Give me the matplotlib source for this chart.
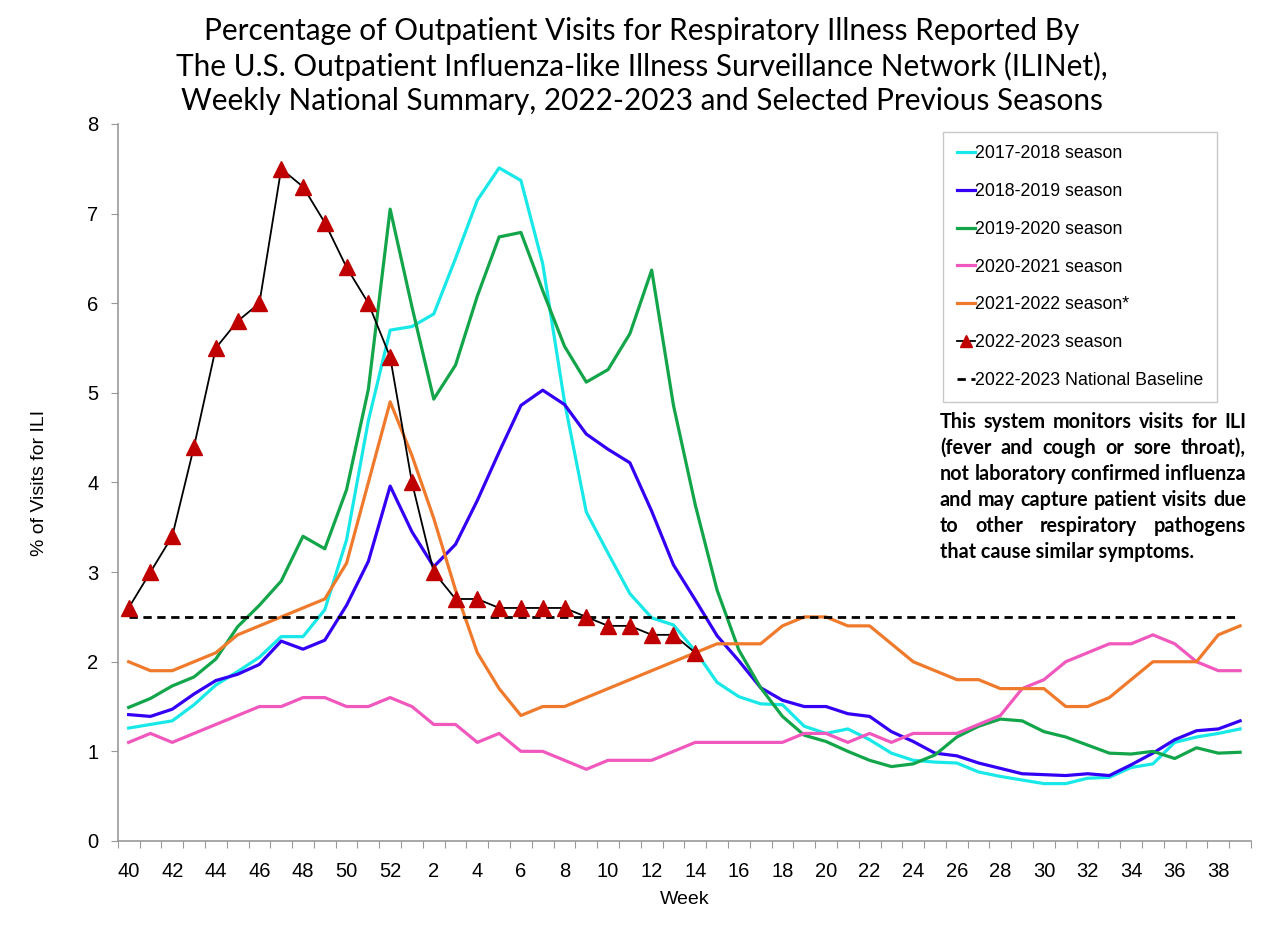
import matplotlib
matplotlib.use("Agg")
import matplotlib.pyplot as plt

# ----------------------
# Data
# ----------------------
weeks = [40, 41, 42, 43, 44, 45, 46, 47, 48, 49, 50, 51, 52] + list(range(1, 40))
tick_labels = [str(w) for w in weeks[::2]]

s1718 = [1.26, 1.30, 1.34, 1.52, 1.74, 1.89, 2.05, 2.28, 2.28, 2.58, 3.36, 4.69, 5.70,
         5.74, 5.88, 6.50, 7.15, 7.51, 7.37, 6.44, 4.90, 3.67, 3.21, 2.76, 2.49, 2.41,
         2.12, 1.77, 1.61, 1.53, 1.52, 1.28, 1.20, 1.25, 1.13, 0.98, 0.90, 0.88, 0.87,
         0.77, 0.72, 0.68, 0.64, 0.64, 0.70, 0.71, 0.82, 0.86, 1.10, 1.16, 1.20, 1.25]
s1819 = [1.41, 1.39, 1.47, 1.64, 1.79, 1.86, 1.97, 2.23, 2.14, 2.24, 2.63, 3.12, 3.96,
         3.45, 3.06, 3.31, 3.80, 4.34, 4.86, 5.03, 4.87, 4.54, 4.37, 4.22, 3.68, 3.08,
         2.69, 2.29, 2.01, 1.71, 1.57, 1.50, 1.50, 1.42, 1.39, 1.22, 1.11, 0.98, 0.95,
         0.87, 0.81, 0.75, 0.74, 0.73, 0.75, 0.73, 0.85, 0.98, 1.13, 1.23, 1.25, 1.34]
s1920 = [1.49, 1.59, 1.73, 1.83, 2.03, 2.39, 2.63, 2.90, 3.40, 3.26, 3.92, 5.04, 7.05,
         5.96, 4.93, 5.31, 6.08, 6.74, 6.79, 6.14, 5.52, 5.12, 5.26, 5.66, 6.37, 4.86,
         3.75, 2.80, 2.13, 1.71, 1.39, 1.18, 1.11, 1.00, 0.90, 0.83, 0.86, 0.96, 1.16,
         1.28, 1.36, 1.34, 1.22, 1.16, 1.07, 0.98, 0.97, 1.00, 0.92, 1.04, 0.98, 0.99]
s2021 = [1.1, 1.2, 1.1, 1.2, 1.3, 1.4, 1.5, 1.5, 1.6, 1.6, 1.5, 1.5, 1.6,
         1.5, 1.3, 1.3, 1.1, 1.2, 1.0, 1.0, 0.9, 0.8, 0.9, 0.9, 0.9, 1.0,
         1.1, 1.1, 1.1, 1.1, 1.1, 1.2, 1.2, 1.1, 1.2, 1.1, 1.2, 1.2, 1.2,
         1.3, 1.4, 1.7, 1.8, 2.0, 2.1, 2.2, 2.2, 2.3, 2.2, 2.0, 1.9, 1.9]
s2122 = [2.0, 1.9, 1.9, 2.0, 2.1, 2.3, 2.4, 2.5, 2.6, 2.7, 3.1, 4.0, 4.9,
         4.3, 3.6, 2.8, 2.1, 1.7, 1.4, 1.5, 1.5, 1.6, 1.7, 1.8, 1.9, 2.0,
         2.1, 2.2, 2.2, 2.2, 2.4, 2.5, 2.5, 2.4, 2.4, 2.2, 2.0, 1.9, 1.8,
         1.8, 1.7, 1.7, 1.7, 1.5, 1.5, 1.6, 1.8, 2.0, 2.0, 2.0, 2.3, 2.4]
s2223 = [2.6, 3.0, 3.4, 4.4, 5.5, 5.8, 6.0, 7.5, 7.3, 6.9, 6.4, 6.0, 5.4,
         4.0, 3.0, 2.7, 2.7, 2.6, 2.6, 2.6, 2.6, 2.5, 2.4, 2.4, 2.3, 2.3, 2.1]
baseline = 2.5

note_lines = [
    "This system monitors visits for ILI",
    "(fever and cough or sore throat),",
    "not laboratory confirmed influenza",
    "and may capture patient visits due",
    "to other respiratory pathogens",
    "that cause similar symptoms.",
]

# ----------------------
# Figure
# ----------------------
W, H = 1284, 948
fig = plt.figure(figsize=(W / 100, H / 100), dpi=100)
ax = fig.add_axes([0.0917, 0.1129, 0.8826, 0.7563])

x = list(range(len(weeks)))
ax.plot(x, s1718, color="#19E8E8", lw=2.3, label="2017-2018 season")
ax.plot(x, s1819, color="#3300F5", lw=2.3, label="2018-2019 season")
ax.plot(x, s1920, color="#13A54A", lw=2.3, label="2019-2020 season")
ax.plot(x, s2021, color="#F058BE", lw=2.3, label="2020-2021 season")
ax.plot(x, s2122, color="#F07A2C", lw=2.3, label="2021-2022 season*")
ax.plot(x, [baseline] * len(x), color="black", lw=2.0, ls=(0, (3, 2)), zorder=4,
        label="2022-2023 National Baseline")
ax.plot(x[:len(s2223)], s2223, color="black", lw=1.3, marker="^", ms=12,
        mfc="#C00000", mec="#C00000", zorder=5, label="2022-2023 season")

ax.set_xlim(-0.5, len(weeks) - 0.5)
ax.set_ylim(0, 8)
ax.set_xticks([i - 0.5 for i in range(len(weeks) + 1)])
ax.set_xticklabels([])
ax.set_xticks(x[::2], minor=True)
ax.set_xticklabels(tick_labels, minor=True)
ax.tick_params(axis="x", which="major", length=5, color="#999999", direction="out")
ax.tick_params(axis="x", which="minor", length=0, labelsize=14.5, pad=15)
ax.set_yticks(range(9))
ax.tick_params(axis="y", length=5, color="#999999", labelsize=14.5, pad=9)
for lab in ax.get_xticklabels(minor=True) + ax.get_yticklabels():
    lab.set_family("Liberation Sans")

for side in ["top", "right"]:
    ax.spines[side].set_visible(False)
for side in ["left", "bottom"]:
    ax.spines[side].set_color("#999999")
    ax.spines[side].set_linewidth(1.2)

ax.set_xlabel("Week", family="Liberation Sans", fontsize=14, labelpad=7)
ax.set_ylabel("% of Visits for ILI", family="Liberation Sans", fontsize=14, labelpad=28)

# legend in the reference order
h, l = ax.get_legend_handles_labels()
order = [0, 1, 2, 3, 4, 6, 5]
leg = ax.legend([h[i] for i in order], [l[i] for i in order], loc="upper right",
                bbox_to_anchor=(0.970, 0.989), fancybox=False, edgecolor="#BBBBBB",
                prop={"family": "Liberation Sans", "size": 12.8}, labelspacing=1.17,
                handlelength=1.05, handletextpad=0.0, borderpad=0.75, borderaxespad=0)
leg.get_frame().set_linewidth(1.0)
for lh in leg.get_lines():
    if lh.get_marker() == "^":
        lh.set_markersize(9)

fig.text(0.5, 1 - 66 / H, "Percentage of Outpatient Visits for Respiratory Illness Reported By\n"
         "The U.S. Outpatient Influenza-like Illness Surveillance Network (ILINet),\n"
         "Weekly National Summary, 2022-2023 and Selected Previous Seasons",
         ha="center", va="center", family="Lato", fontsize=21.4, linespacing=1.28)

# justified note block
renderer = fig.canvas.get_renderer()
note_kw = dict(family="Lato", fontweight="bold", fontsize=14.2)
x0, x1 = 940, 1246
for n, line in enumerate(note_lines):
    y = 1 - (428 + n * 25.9) / H
    words = line.split()
    if n == len(note_lines) - 1:
        fig.text(x0 / W, y, line, va="baseline", **note_kw)
        continue
    widths = []
    for w in words:
        t = fig.text(0, 0, w, **note_kw)
        widths.append(t.get_window_extent(renderer).width)
        t.remove()
    gap = (x1 - x0 - sum(widths)) / (len(words) - 1)
    xpos = x0
    for w, wd in zip(words, widths):
        fig.text(xpos / W, y, w, va="baseline", **note_kw)
        xpos += wd + gap

fig.savefig("out.png", dpi=100)
